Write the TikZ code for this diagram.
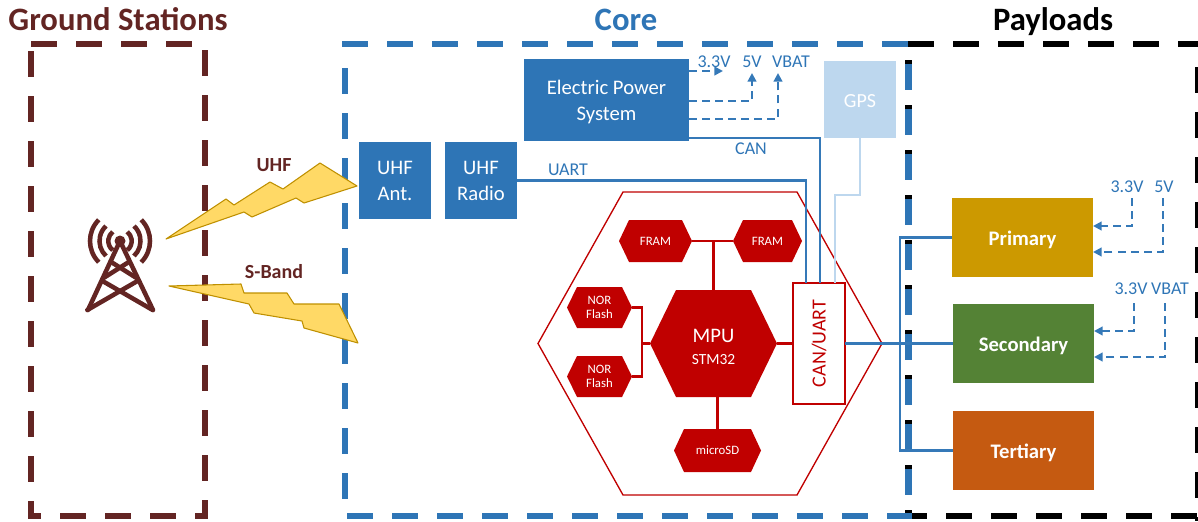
\documentclass[tikz,border=0pt]{standalone}
\usepackage{fontspec}
\setmainfont{Carlito}
\usetikzlibrary{arrows.meta}
\lineskiplimit=-20pt
\definecolor{gsred}{HTML}{632523}
\definecolor{coreblue}{HTML}{2E75B6}
\definecolor{gpsblue}{HTML}{BDD7EE}
\definecolor{mpured}{HTML}{C00000}
\definecolor{boltfill}{HTML}{FFD966}
\definecolor{boltline}{HTML}{BF9000}
\definecolor{primcol}{HTML}{CC9900}
\definecolor{seccol}{HTML}{548235}
\definecolor{tercol}{HTML}{C55A11}
\definecolor{linkblue}{HTML}{3579B8}
\newcommand{\tsz}[1]{\pgfmathsetmacro\tszb{#1*1.2}\fontsize{#1}{\tszb}\selectfont}
\newcommand{\boxnode}[7][]{\node[nodebase,#1,minimum width={(#4-#3)*0.75pt},minimum height={(#6-#5)*0.75pt}] (#2) at ({(#3+#4)/2},{(#5+#6)/2}) {#7};}
% name, x1, x2, inset, y1, y2, text ; optional polygon style
\newcommand{\hexnode}[8][hexfill]{\path[#1] (#3,{(#6+#7)/2}) -- ({#3+#5},#6) -- ({#4-#5},#6) -- (#4,{(#6+#7)/2}) -- ({#4-#5},#7) -- ({#3+#5},#7) -- cycle;
\node[nodebase,text=white,minimum width={(#4-#3)*0.75pt},minimum height={(#7-#6)*0.75pt}] (#2) at ({(#3+#4)/2},{(#6+#7)/2}) {#8};}
\tikzset{
  nodebase/.style={inner sep=0pt,outer sep=0pt,align=center,font=\tsz{15.5}},
  hexfill/.style={fill=mpured},
  hexouter/.style={draw=mpured,line width=1pt,fill=white,line join=miter},
  frameline/.style={line width=4.875pt,dash pattern=on 19.5pt off 14.25pt},
  framegs/.style={frameline,draw=gsred},
  framecore/.style={frameline,draw=coreblue},
  framepay/.style={frameline,draw=black},
  blockblue/.style={fill=coreblue,text=white},
  titletext/.style={inner sep=0pt,anchor=base,font=\tsz{24.5}\bfseries},
  linktext/.style={inner sep=0pt,text=coreblue,font=\tsz{13.5}},
  pwrtext/.style={inner sep=0pt,text=coreblue,font=\tsz{13.5}},
  bus/.style={draw=linkblue,line width=1.7pt},
  gpsbus/.style={draw=gpsblue,line width=1.9pt},
  red link/.style={draw=mpured,line width=1.7pt},
  pwr/.style={draw=linkblue,line width=1.6pt,dash pattern=on 6pt off 3.8pt,-{Triangle[length=6.5pt,width=6.5pt]}},
  bolt/.style={fill=boltfill,draw=boltline,line width=0.8pt,line join=round},
  boltlabel/.style={inner sep=0pt,text=gsred,font=\tsz{15}\bfseries},
  towerline/.style={draw=gsred,line width=3.4pt,line cap=round,line join=round},
  towerarc/.style={draw=gsred,line width=3.4pt},
  paytext/.style={text=white,text height=12.7pt,text depth=0pt,font=\tsz{15.5}\bfseries},
}
\begin{document}
\begin{tikzpicture}[x=0.75pt,y=-0.75pt]
\useasboundingbox (0,0) rectangle (1198,521);
% Ground Stations frame
\draw[framegs] (31,44) -- (205,44);
\draw[framegs] (31,51) -- (31,516);
\draw[framegs] (205,50) -- (205,519);
\draw[framegs,dash phase=9.75pt] (28,516) -- (208,516);
% Payloads frame
\draw[framepay] (908,44) -- (1198,44);
\draw[framepay] (1198,67) -- (1198,521);
\draw[framepay] (901,516) -- (1198,516);
\draw[framepay] (908.5,60) -- (908.5,516);
% Core frame
\draw[framecore] (342,44) -- (910,44);
\draw[framecore] (345,68) -- (345,516);
\draw[framecore] (347,516) -- (912,516);
\draw[framecore] (908.5,64) -- (908.5,500);
% Titles
\node[titletext,text=gsred] (tgs) at (118,30.3) {Ground Stations};
\node[titletext,text=coreblue] (tcore) at (626,30.3) {Core};
\node[titletext,text=black] (tpay) at (1053,30.3) {Payloads};
% Tower
\coordinate (apex) at (120,241);
\fill[gsred] (apex) circle (5.5);
\draw[towerline] (88,310) -- (apex) -- (153,310);
\draw[towerline] (110.7,261.7) -- (137,278.3);
\draw[towerline] (129.3,261.7) -- (103,278.3);
\draw[towerline] (102,280.7) -- (152.7,310);
\draw[towerline] (138,280.7) -- (87.3,310);
\foreach \r/\a in {30/45,20.5/47,11.7/52}{
  \draw[towerarc] (apex) ++({180-\a}:\r) arc ({180-\a}:{180+\a}:\r);
  \draw[towerarc] (apex) ++(\a:\r) arc (\a:-\a:\r);
}
% Bolts
\draw[bolt] (166,239) -- (226,199) -- (234,205) -- (270,182) -- (283,189) -- (320,163) -- (357,186) -- (304,203) -- (296,198) -- (252,217) -- (244,212) -- cycle;
\draw[bolt] (169,286) -- (241,284) -- (244,293) -- (287,293) -- (294,304) -- (339,304) -- (358,343) -- (304,328) -- (302,321) -- (254,313) -- (249,304) -- cycle;
\node[boltlabel] (luhf) at (274,165) {UHF};
\node[boltlabel] (lsb) at (274,272) {S-Band};
% Core blocks
\boxnode[blockblue]{uhfa}{359}{431}{142}{219}{UHF\\[0.9pt]Ant.}
\boxnode[blockblue]{uhfr}{445}{517}{142}{219}{UHF\\[0.9pt]Radio}
\boxnode[blockblue]{eps}{524}{689}{59}{141}{\rule{0pt}{13pt}Electric Power\\[0.9pt]System}
\boxnode[fill=gpsblue,text=white,font=\tsz{15}]{gps}{824}{896}{61}{138}{\rule{0pt}{12pt}GPS}
% Big hexagon
\hexnode[hexouter]{mcu}{538}{882}{85}{192}{495}{}
% Inner hexagons
\hexnode{fram1}{619}{692}{10}{220}{262}{\tsz{9.6}FRAM}
\hexnode{fram2}{733}{802}{10}{220}{262}{\tsz{9.6}FRAM}
\hexnode{nor1}{567}{632}{10}{287}{328}{\tsz{9.6}NOR\\[-8pt]\tsz{9.6}Flash}
\hexnode{nor2}{567}{632}{10}{356}{397}{\tsz{9.6}NOR\\[-8pt]\tsz{9.6}Flash}
\hexnode{mpu}{650}{777}{26}{290}{397}{\rule{0pt}{15pt}\tsz{15.5}MPU\\[-2.5pt]\tsz{11.6}STM32}
\hexnode{sd}{674}{761}{10}{429}{472}{\tsz{9.6}microSD}
\boxnode[fill=white,draw=mpured,line width=1pt]{canuart}{793}{845}{283}{404}{}
\node[inner sep=0pt,text=mpured,rotate=90,font=\tsz{15}] (canuartlabel) at (canuart.center) {CAN/UART};
% Payload blocks
\boxnode[fill=primcol,paytext]{prim}{952}{1093}{198}{277}{Primary}
\boxnode[fill=seccol,paytext]{sec}{953}{1094}{304}{383}{Secondary}
\boxnode[fill=tercol,paytext]{ter}{953}{1094}{411}{490}{Tertiary}
% Red connectors
\draw[red link] (fram1.east) -- (fram2.west);
\draw[red link] (mpu.north) -- (mpu.north |- fram1.east);
\coordinate (norbus) at (642,343.5);
\draw[red link] (nor1.east) -| (norbus) |- (nor2.east);
\draw[red link] (norbus) -- (mpu.west);
\draw[red link] (mpu.east) -- (canuart.west);
\draw[red link] (sd.north) -- (sd.north |- mpu.south);
% Data links
\coordinate (canstart) at (689,138);
\coordinate (canin) at (820,283);
\coordinate (uartin) at (806,283);
\coordinate (gpsin) at (835,283);
\coordinate (gpsbend) at (835,195);
\draw[gpsbus] (gps.south) |- (gpsbend) -- (gpsin);
\draw[bus] (uhfr.east) -| (uartin);
\draw[bus] (canstart) -| (canin);
\coordinate (busj) at (900,343.5);
\draw[bus] (canuart.east) -- (sec.west);
\draw[bus] (prim.west) -| (busj) |- (ter.west);
\node[linktext] (luart) at (568,170) {UART};
\node[linktext] (lcan) at (751,149) {CAN};
% EPS power outputs
\coordinate (e33s) at (689,71);
\coordinate (e33t) at (723,71);
\coordinate (e5s) at (689,101);
\coordinate (e5t) at (752,73);
\coordinate (evs) at (689,119);
\coordinate (evt) at (778,73);
\draw[pwr] (e33s) -- (e33t);
\draw[pwr] (e5s) -| (e5t);
\draw[pwr] (evs) -| (evt);
\node[pwrtext] (le33) at (714,62) {3.3V};
\node[pwrtext] (le5) at (752,62) {5V};
\node[pwrtext] (lev) at (791,62) {VBAT};
% Primary power
\coordinate (p33s) at (1132,198);
\coordinate (p33t) at (1093,226);
\coordinate (p5s) at (1163,198);
\coordinate (p5t) at (1093,252);
\draw[pwr] (p33s) |- (p33t);
\draw[pwr] (p5s) |- (p5t);
\node[pwrtext] (lp33) at (1127,187) {3.3V};
\node[pwrtext] (lp5) at (1164,187) {5V};
% Secondary power
\coordinate (s33s) at (1134,303);
\coordinate (s33t) at (1094,331);
\coordinate (svs) at (1165,303);
\coordinate (svt) at (1094,357);
\draw[pwr] (s33s) |- (s33t);
\draw[pwr] (svs) |- (svt);
\node[pwrtext] (ls33) at (1131,289) {3.3V};
\node[pwrtext] (lsv) at (1170,289) {VBAT};
\end{tikzpicture}
\end{document}
